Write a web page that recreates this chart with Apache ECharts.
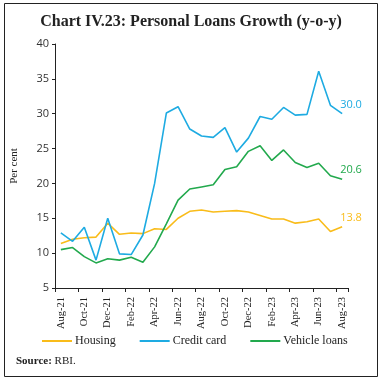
<!DOCTYPE html>
<html>
<head>
<meta charset="utf-8">
<script src="https://cdn.jsdelivr.net/npm/echarts@6/dist/echarts.min.js"></script>
<style>html,body{margin:0;padding:0;background:#fff;}#c{width:382px;height:382px;}</style>
</head>
<body>
<div id="c"></div>
<script>
var categories = ['Aug-21','Sep-21','Oct-21','Nov-21','Dec-21','Jan-22','Feb-22','Mar-22','Apr-22','May-22','Jun-22','Jul-22','Aug-22','Sep-22','Oct-22','Nov-22','Dec-22','Jan-23','Feb-23','Mar-23','Apr-23','May-23','Jun-23','Jul-23','Aug-23'];
var housing = [11.4,12.0,12.2,12.3,14.3,12.7,12.9,12.8,13.5,13.4,15.0,16.0,16.2,15.9,16.0,16.1,15.9,15.4,14.9,14.9,14.3,14.5,14.9,13.1,13.8];
var creditCard = [12.9,11.7,13.7,9.0,15.0,9.9,9.8,12.6,20.0,30.1,31.0,27.8,26.8,26.6,28.0,24.5,26.5,29.6,29.2,30.9,29.8,29.9,36.1,31.2,30.0];
var vehicleLoans = [10.5,10.8,9.5,8.6,9.2,9.0,9.4,8.7,10.9,14.2,17.6,19.2,19.5,19.8,22.0,22.4,24.6,25.4,23.3,24.8,23.0,22.3,22.9,21.1,20.6];
var seriesNames = ['Housing','Credit card','Vehicle loans'];
var colors = ['#F9BC1A','#1EABE2','#22A94D'];

function mk(name, data, color){
  return {name:name, type:'line', data:data, symbol:'none', lineStyle:{width:1.6, color:color}, itemStyle:{color:color},
    endLabel:{show:true, distance:5, offset:[-7,-9], color:color, fontSize:11, fontFamily:'Open Sans',
      formatter:function(p){return Number(p.value).toFixed(1);}}};
}

var chart = echarts.init(document.getElementById('c'));
chart.setOption({
  animation:false,
  backgroundColor:'#fff',
  title:{text:'Chart IV.23: Personal Loans Growth (y-o-y)', left:'center', top:9, textStyle:{fontFamily:'Liberation Serif', fontSize:16, fontWeight:'bold', color:'#222'}},
  grid:{left:55, right:34, top:44, bottom:94},
  legend:{data:seriesNames, left:37, top:330, itemWidth:30, itemHeight:2, itemGap:24, icon:'rect', textStyle:{fontFamily:'Liberation Serif', fontSize:12, color:'#222', padding:[0,0,0,-2]}},
  xAxis:{type:'category', data:categories, boundaryGap:true,
    axisLine:{lineStyle:{color:'#222', width:1}},
    axisTick:{show:true, interval:1, length:4, lineStyle:{color:'#222'}},
    axisLabel:{interval:1, rotate:90, fontFamily:'Liberation Serif', fontSize:10.5, color:'#222', margin:9}},
  yAxis:{type:'value', min:5, max:40, interval:5, name:'Per cent', nameLocation:'middle', nameGap:35,
    nameTextStyle:{fontFamily:'Liberation Serif', fontSize:11, color:'#222'},
    axisLine:{show:true, lineStyle:{color:'#222', width:1}},
    axisTick:{show:true, length:3, lineStyle:{color:'#222'}},
    splitLine:{show:false},
    axisLabel:{fontFamily:'Open Sans', fontSize:11, color:'#333', margin:6}},
  series:[mk(seriesNames[0], housing, colors[0]), mk(seriesNames[1], creditCard, colors[1]), mk(seriesNames[2], vehicleLoans, colors[2])],
  graphic:[
    {type:'rect', shape:{x:4.5, y:3.5, width:373, height:373}, style:{fill:'none', stroke:'#222', lineWidth:1}, silent:true},
    {type:'text', left:16, top:356, style:{text:'{b|Source:} RBI.', rich:{b:{fontWeight:'bold', fontFamily:'Liberation Serif', fontSize:11, fill:'#222'}}, fontFamily:'Liberation Serif', fontSize:11, fill:'#222'}}
  ]
});
</script>
</body>
</html>
